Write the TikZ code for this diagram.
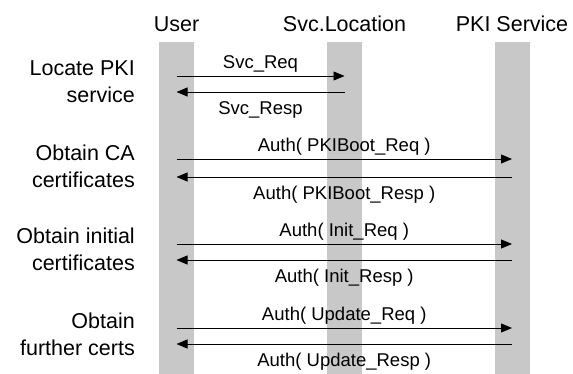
\documentclass[tikz,border=0pt]{standalone}
\usepackage{fontspec}
\setmainfont{Liberation Sans}
\usetikzlibrary{arrows.meta}
\definecolor{lanegray}{RGB}{200,200,200}

\begin{document}
\begin{tikzpicture}[x=1pt,y=-1pt,>={Triangle[length=11pt,width=9pt]},
		lane/.style={fill=lanegray,inner sep=0pt,minimum width=35pt,minimum height=332pt,anchor=north},
		head/.style={font=\fontsize{21.5}{26}\selectfont,inner sep=0pt,anchor=base},
		phase/.style={font=\fontsize{21.5}{27}\selectfont,inner sep=0pt,align=right,anchor=base east},
		msg/.style={font=\fontsize{18.5}{22}\selectfont,inner sep=0pt,anchor=base}]
		\useasboundingbox (0,0) rectangle (573,374);
		% lifelines
		\node[lane] (user) at (176.5,42) {};
		\node[lane] (svc) at (344.5,42) {};
		\node[lane] (pki) at (512,42) {};
		\node[head] (userlbl) at (176.5,32) {User};
		\node[head] (svclbl) at (344.5,32) {Svc.Location};
		\node[head] (pkilbl) at (512,32) {PKI Service};
		% phases (base = last line)
		\node[phase] (locate) at (135,103) {Locate PKI\\service};
		\node[phase] (cacert) at (135,188) {Obtain CA\\certificates};
		\node[phase] (initcert) at (135,270) {Obtain initial\\certificates};
		\node[phase] (further) at (135,355) {Obtain\\further certs};
		% messages
		\foreach \i/\a/\b/\y/\s/\t in {1/user/svc/76/7.5/{Svc\_Req},2/svc/user/92/-22.5/{Svc\_Resp},
				3/user/pki/159/7.5/{Auth( PKIBoot\_Req )},4/pki/user/177/-22.5/{Auth( PKIBoot\_Resp )},
				5/user/pki/244/7.5/{Auth( Init\_Req )},6/pki/user/260/-22.5/{Auth( Init\_Resp )},
				7/user/pki/328/7.5/{Auth( Update\_Req )},8/pki/user/344/-22.5/{Auth( Update\_Resp )}}
			\draw[->,line width=.9pt] (\a |- 0,\y) -- (\b |- 0,\y) node[msg,midway,yshift=\s pt] (m\i) {\t};
\end{tikzpicture}
\end{document}
